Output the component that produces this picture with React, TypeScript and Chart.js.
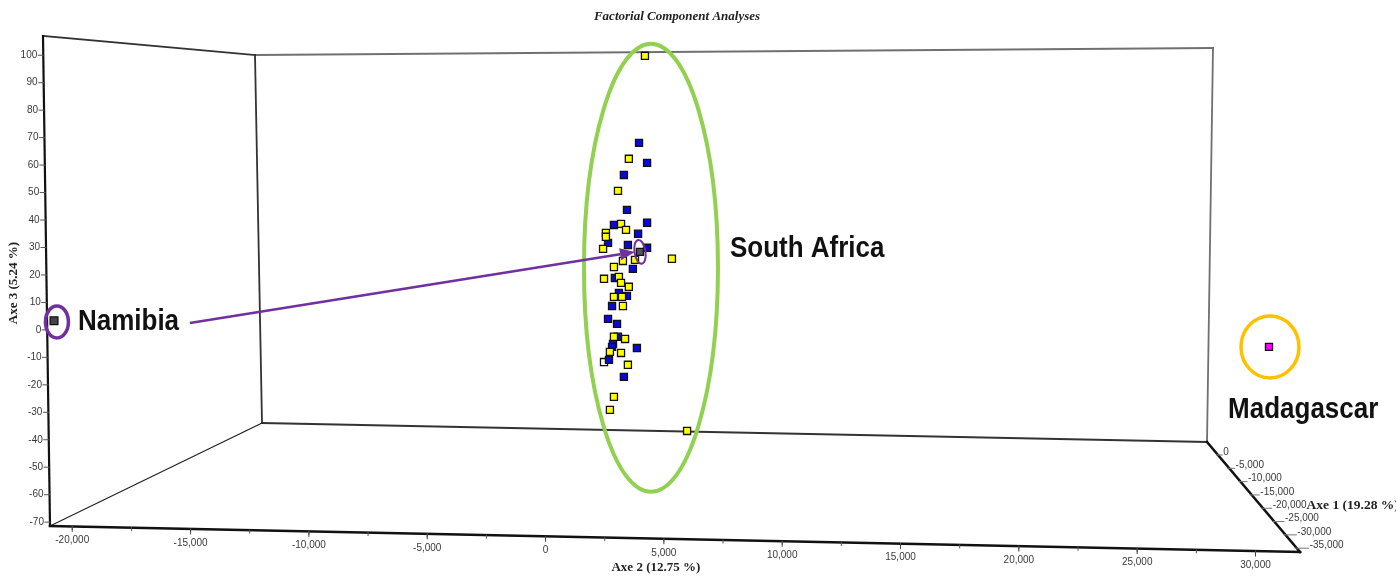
import React, { useEffect, useRef } from "react";
import { Chart, registerables } from "chart.js";

Chart.register(...registerables);

// ---------- Text ----------
const TITLE = "Factorial Component Analyses";
const AXE2_TITLE = "Axe 2 (12.75 %)";
const AXE3_TITLE = "Axe 3 (5.24 %)";
const AXE1_TITLE = "Axe 1 (19.28 %)";

// ---------- Axis ticks ----------
const axe2Ticks = [-20000, -15000, -10000, -5000, 0, 5000, 10000, 15000, 20000, 25000, 30000];
const axe3Ticks = [100, 90, 80, 70, 60, 50, 40, 30, 20, 10, 0, -10, -20, -30, -40, -50, -60, -70];
const axe1Ticks = [0, -5000, -10000, -15000, -20000, -25000, -30000, -35000];

// ---------- Data (front-plane projection: Axe 2, Axe 3) ----------
const yellowX = [4200, 3520, 3060, 3190, 3400, 2550, 2550, 2430, 3780, 3270, 5340, 2890, 2470, 3100, 3190, 3520, 2890, 3230, 3270, 2890, 3360, 2720, 3190, 3480, 2890, 2720, 5980];
const yellowY = [99.8, 62.3, 50.6, 38.6, 36.4, 35.3, 33.9, 29.5, 25.5, 25.1, 25.9, 22.9, 18.6, 19.3, 17.1, 15.7, 12.0, 12.0, 8.7, -2.5, -3.3, -8.0, -8.4, -12.7, -24.4, -29.1, -36.8];
const blueX = [3950, 4290, 3310, 3440, 2890, 4290, 3910, 2640, 3480, 4290, 3690, 2930, 3100, 3440, 2810, 2640, 3020, 3060, 2850, 2810, 3860, 2680, 3310];
const blueY = [68.1, 60.8, 56.4, 43.7, 38.2, 39.0, 35.0, 31.7, 30.9, 29.9, 22.2, 18.9, 13.5, 12.4, 8.7, 4.0, 2.2, -2.5, -5.1, -6.2, -6.6, -10.9, -17.1];
const southAfricaX = [3990];
const southAfricaY = [28.4];
const whiteX = [2470];
const whiteY = [-11.7];
const namibiaX = [-20770];
const namibiaY = [3.3];
const madagascarX = [30570];
const madagascarY = [-6.2];

// ---------- Annotation anchors (data units) ----------
const greenEllipseCenter = { x: 4454, y: 22.6 };
const namibiaCircleCenter = { x: -20647, y: 2.9 };
const arrowStart = { x: -15030, y: 2.5 };
const namibiaLabel = { text: "Namibia", x: -19760, y: 0 };
const southAfricaLabel = { text: "South Africa", x: 7790, y: 26.6 };
const madagascarLabel = { text: "Madagascar", x: 28840, y: -32.0 };

const X_MIN = -20940;
const X_MAX = 31880;
const Y_MIN = -71.4;
const Y_MAX = 107;

const toPts = (xs: number[], ys: number[]) => xs.map((x, i) => ({ x, y: ys[i] }));

const fmt = (v: number) => {
  const s = Math.abs(v).toString().replace(/\B(?=(\d{3})+(?!\d))/g, ",");
  return (v < 0 ? "-" : "") + s;
};

const framePlugin = {
  id: "frame3d",
  beforeDatasetsDraw(chart: any) {
    const ctx: CanvasRenderingContext2D = chart.ctx;
    const a = chart.chartArea;
    const xs = chart.scales.x;
    const ys = chart.scales.y;
    const L = a.left, T = a.top, R = a.right, B = a.bottom;
    const FTL = [L - 7, T], FBL = [L, B], FBR = [R, B + 26];
    const BTL = [L + 205, T + 19], BBL = [L + 212, T + 387];
    const BTR = [L + 1163, T + 12], BBR = [L + 1157, T + 406];

    const line = (p: number[], q: number[], w: number, c: string) => {
      ctx.beginPath();
      ctx.moveTo(p[0], p[1]);
      ctx.lineTo(q[0], q[1]);
      ctx.lineWidth = w;
      ctx.strokeStyle = c;
      ctx.stroke();
    };
    ctx.save();
    ctx.lineCap = "square";
    line(BTL, BTR, 1.8, "#707070");
    line(BTR, BBR, 1.8, "#707070");
    line(BTL, BBL, 1.8, "#333");
    line(BBL, BBR, 1.8, "#333");
    line(FTL, BTL, 1.8, "#333");
    line(FBL, BBL, 1.3, "#222");
    line(FTL, FBL, 2.2, "#111");
    line(FBL, FBR, 2.6, "#111");
    line(BBR, FBR, 2.6, "#111");

    // Axe 3 (left vertical)
    ctx.font = "10px 'Liberation Sans', Arial, sans-serif";
    ctx.fillStyle = "#3a3a3a";
    ctx.textAlign = "right";
    ctx.textBaseline = "middle";
    const axX = (py: number) => FTL[0] + ((py - FTL[1]) * (FBL[0] - FTL[0])) / (FBL[1] - FTL[1]);
    axe3Ticks.forEach((v) => {
      const py = ys.getPixelForValue(v);
      const ax = axX(py);
      line([ax - 5, py], [ax, py], 1, "#555");
      ctx.fillText(String(v), ax - 6, py);
    });

    // Axe 2 (front bottom)
    const edgeY = (px: number) => FBL[1] + ((px - FBL[0]) * (FBR[1] - FBL[1])) / (FBR[0] - FBL[0]);
    ctx.textAlign = "center";
    for (let v = -20000; v <= 30000; v += 2500) {
      const px = xs.getPixelForValue(v);
      const ey = edgeY(px);
      line([px, ey], [px, ey + 3], 1, "#555");
    }
    axe2Ticks.forEach((v) => {
      const px = xs.getPixelForValue(v);
      const ey = edgeY(px);
      line([px, ey], [px, ey + 5], 1, "#444");
      ctx.fillText(fmt(v), px, ey + 14);
    });

    // Axe 1 (depth, right)
    ctx.textAlign = "left";
    const dx = FBR[0] - BBR[0], dy = FBR[1] - BBR[1];
    let titleX = 0, titleY = 0;
    axe1Ticks.forEach((v) => {
      const t = 0.091 + (-v / 5000) * 0.121;
      const px = BBR[0] + dx * t;
      const py = BBR[1] + dy * t;
      const off = 7 + t * 9;
      line([px + 1, py + 3], [px + off - 1, py + 3], 1, "#777");
      ctx.fillText(fmt(v), px + off, py);
      if (v === -20000) {
        titleX = px + off + ctx.measureText(fmt(v)).width;
        titleY = py;
      }
    });
    ctx.font = "bold 13.5px 'Liberation Serif', 'Times New Roman', serif";
    ctx.fillStyle = "#222";
    ctx.fillText(AXE1_TITLE, titleX, titleY);

    // Titles
    ctx.font = "bold 13px 'Liberation Serif', 'Times New Roman', serif";
    ctx.textAlign = "center";
    const midX = xs.getPixelForValue(5000);
    ctx.fillText(AXE2_TITLE, midX - 8, 568);
    ctx.save();
    ctx.translate(14, 283);
    ctx.rotate(-Math.PI / 2);
    ctx.fillText(AXE3_TITLE, 0, 0);
    ctx.restore();
    ctx.font = "italic bold 13px 'Liberation Serif', 'Times New Roman', serif";
    ctx.fillText(TITLE, (chart.width as number) / 2 - 21, 17);
    ctx.restore();
  },
  afterDatasetsDraw(chart: any) {
    const ctx: CanvasRenderingContext2D = chart.ctx;
    const xs = chart.scales.x;
    const ys = chart.scales.y;
    const P = (p: { x: number; y: number }) => [xs.getPixelForValue(p.x), ys.getPixelForValue(p.y)];
    const ellipse = (c: number[], rx: number, ry: number, rot: number, w: number, col: string) => {
      ctx.beginPath();
      ctx.ellipse(c[0], c[1], rx, ry, rot, 0, Math.PI * 2);
      ctx.lineWidth = w;
      ctx.strokeStyle = col;
      ctx.stroke();
    };
    ctx.save();
    const purple = "#7030a0";
    ellipse(P(greenEllipseCenter), 67, 224, 0, 4, "#92d050");
    ellipse(P(namibiaCircleCenter), 11.5, 16, 0, 3.5, purple);
    const sa = P({ x: southAfricaX[0], y: southAfricaY[0] });
    ellipse(sa, 5.5, 12, -0.15, 2, purple);
    const mg = P({ x: madagascarX[0], y: madagascarY[0] });
    ellipse([mg[0] + 1, mg[1]], 29, 31, 0, 3.5, "#ffc000");

    // Arrow
    const s = P(arrowStart);
    const e = [sa[0] - 5, sa[1]];
    const ang = Math.atan2(e[1] - s[1], e[0] - s[0]);
    const hl = 15, hw = 6;
    const bx = e[0] - hl * Math.cos(ang), by = e[1] - hl * Math.sin(ang);
    ctx.beginPath();
    ctx.moveTo(s[0], s[1]);
    ctx.lineTo(bx, by);
    ctx.lineWidth = 2.5;
    ctx.strokeStyle = purple;
    ctx.stroke();
    ctx.beginPath();
    ctx.moveTo(e[0], e[1]);
    ctx.lineTo(bx + hw * Math.sin(ang), by - hw * Math.cos(ang));
    ctx.lineTo(bx - hw * Math.sin(ang), by + hw * Math.cos(ang));
    ctx.closePath();
    ctx.fillStyle = purple;
    ctx.fill();

    // Labels
    ctx.fillStyle = "#111";
    ctx.textAlign = "left";
    ctx.textBaseline = "alphabetic";
    ctx.font = "bold 26px 'Liberation Sans', Arial, sans-serif";
    [namibiaLabel, southAfricaLabel, madagascarLabel].forEach((l) => {
      const p = P(l);
      ctx.save();
      ctx.translate(p[0], p[1]);
      ctx.scale(1, 1.15);
      ctx.fillText(l.text, 0, 0);
      ctx.restore();
    });
    ctx.restore();
  },
};

export default function App() {
  const ref = useRef<HTMLCanvasElement>(null);
  useEffect(() => {
    const canvas = ref.current;
    if (!canvas) return;
    const base = { pointStyle: "rect", pointRadius: 5, borderColor: "#111", borderWidth: 1.3, clip: false };
    const chart = new Chart(canvas, {
      type: "scatter",
      data: {
        datasets: [
          { ...base, label: "Yellow", data: toPts(yellowX, yellowY), backgroundColor: "#ffff00" },
          { ...base, label: "Blue", data: toPts(blueX, blueY), backgroundColor: "#0a0ad8" },
          { ...base, label: "White", data: toPts(whiteX, whiteY), backgroundColor: "#ffffff" },
          { ...base, label: "South Africa", data: toPts(southAfricaX, southAfricaY), backgroundColor: "#555555" },
          { ...base, label: "Namibia", data: toPts(namibiaX, namibiaY), backgroundColor: "#444444", pointRadius: 5.5 },
          { ...base, label: "Madagascar", data: toPts(madagascarX, madagascarY), backgroundColor: "#ff00ff" },
        ] as any,
      },
      options: {
        animation: false,
        responsive: false,
        devicePixelRatio: 1,
        layout: { padding: { left: 50, right: 96, top: 36, bottom: 51 } },
        scales: {
          x: { type: "linear", min: X_MIN, max: X_MAX, display: false },
          y: { type: "linear", min: Y_MIN, max: Y_MAX, display: false },
        },
        plugins: {
          legend: { display: false },
          tooltip: { enabled: false },
          title: { display: false },
        },
      },
      plugins: [framePlugin as any],
    });
    return () => chart.destroy();
  }, []);
  return (
    <div style={{ position: "fixed", left: 0, top: 0, width: 1396, height: 577, background: "#fff" }}>
      <canvas ref={ref} width={1396} height={577} style={{ display: "block" }} />
    </div>
  );
}
